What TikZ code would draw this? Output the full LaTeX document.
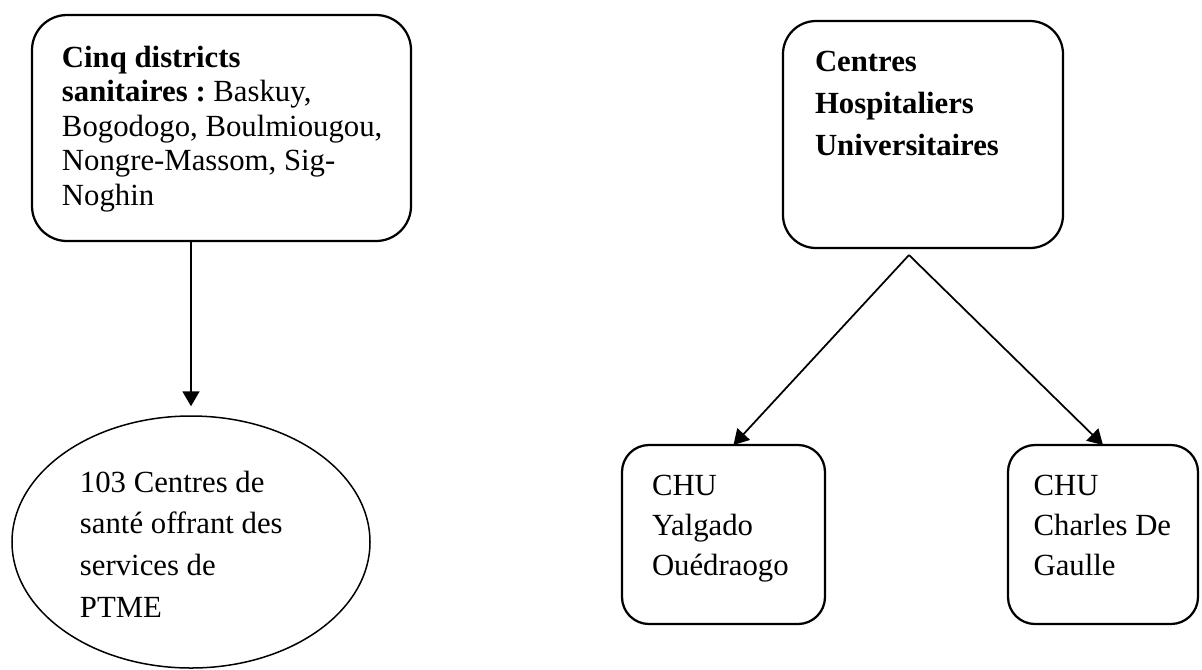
\documentclass[tikz,border=0pt]{standalone}
\usepackage{fontspec}
\setmainfont{Liberation Serif}
\frenchspacing
\usetikzlibrary{shapes.geometric,arrows.meta}

\begin{document}
\begin{tikzpicture}[x=0.4pt,y=-0.4pt,
  box/.style={draw, line width=0.9pt, rectangle, anchor=north west, align=flush left, outer sep=0pt, inner ysep=0pt, inner xsep=12pt},
  fleche/.style={line width=0.7pt, -{Triangle[length=6pt,width=6.8pt]}}]
\useasboundingbox (0,0) rectangle (1202,669);
\begin{scope}
% partie gauche : districts
\node[box, rounded corners=14pt, text width=127.6pt, text height=20.8pt, text depth=69.6pt, font=\fontsize{12.3}{13.8}\selectfont] (districts) at (32,15) {\textbf{Cinq districts}\\ \mbox{\textbf{sanitaires :} Baskuy,}\\ \mbox{Bogodogo, Boulmiougou,}\\ \mbox{Nongre-Massom, Sig-}\\ Noghin};
\node[draw, ellipse, line width=0.6pt, minimum width=143.2pt, minimum height=100.8pt, inner sep=0pt, text width=88.8pt, align=flush left, text height=10pt, text depth=50pt, font=\fontsize{12.3}{16.7}\selectfont] (ptme) at (191,542) {\mbox{103 Centres de}\\ \mbox{santé offrant des}\\ \mbox{services de}\\ PTME};
\path[draw, fleche, shorten >=3.6pt] (districts.south -| ptme.north) -- (ptme.north);
% partie droite : CHU
\node[box, rounded corners=13.2pt, inner xsep=12.8pt, text width=86.4pt, text height=20pt, text depth=70.8pt, font=\fontsize{12.3}{16.8}\selectfont] (chu) at (783,21) {\textbf{Centres}\\ \textbf{Hospitaliers}\\ \textbf{Universitaires}};
\node[box, rounded corners=10.8pt, text width=57.2pt, text height=20pt, text depth=51.6pt, font=\fontsize{12.3}{16}\selectfont] (yal) at (622,445) {CHU\\ Yalgado\\ \mbox{Ouédraogo}};
\node[box, rounded corners=10.8pt, inner xsep=10.25pt, text width=55.5pt, text height=20pt, text depth=51.6pt, font=\fontsize{12.3}{16}\selectfont] (cdg) at (1008,445) {CHU\\ \mbox{Charles De}\\ Gaulle};
\coordinate (fourche) at ([xshift=-5.6pt,yshift=-2.8pt]chu.south);
\path[draw, fleche] (fourche) -- ([xshift=4pt]yal.north);
\path[draw, fleche] (fourche) -- (cdg.north);
\end{scope}
\end{tikzpicture}
\end{document}
